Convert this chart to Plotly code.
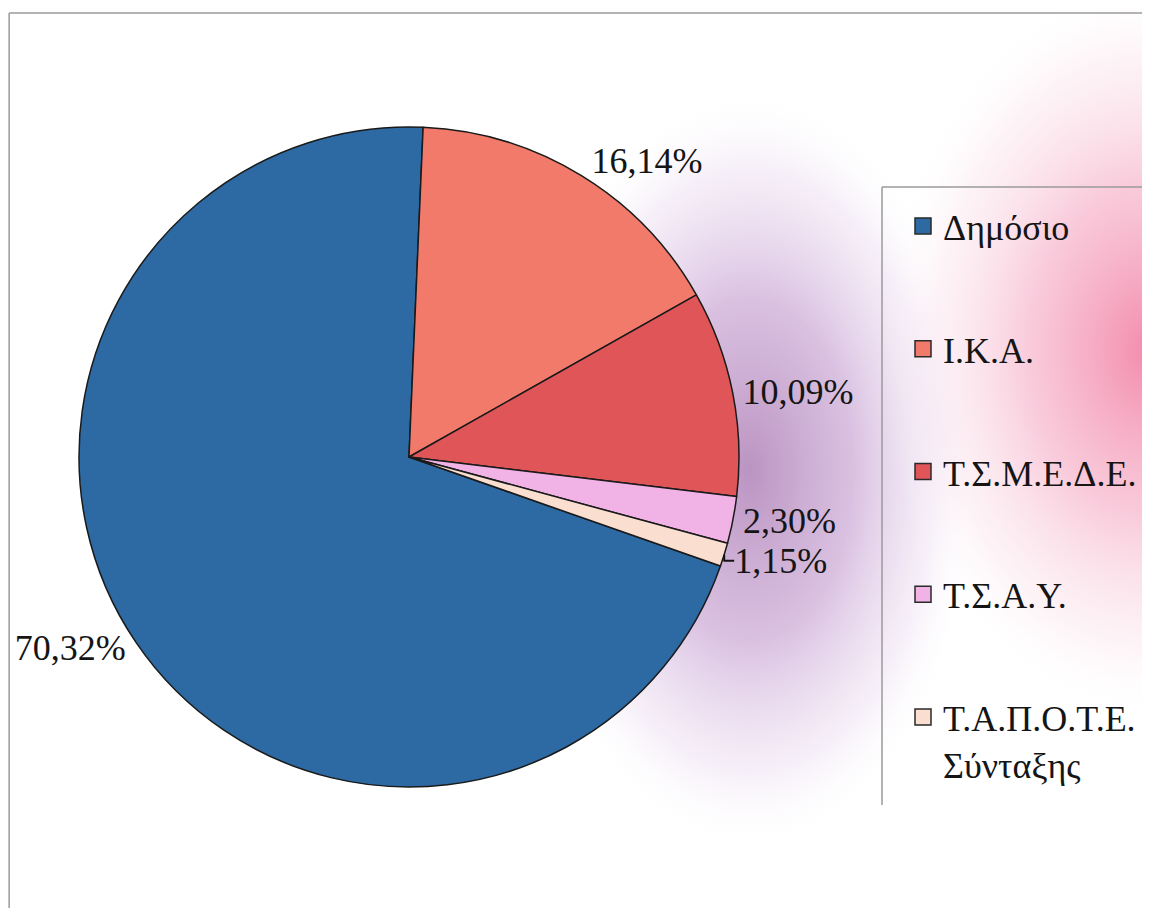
import plotly.graph_objects as go

# shares of pension funds (percent)
funds = ["Δημόσιο", "Ι.Κ.Α.", "Τ.Σ.Μ.Ε.Δ.Ε.", "Τ.Σ.Α.Υ.", "Τ.Α.Π.Ο.Τ.Ε.<br>Σύνταξης"]
shares = [70.32, 16.14, 10.09, 2.30, 1.15]
share_text = ["70,32%", "16,14%", "10,09%", "2,30%", "1,15%"]
colors = ["#2d6aa3", "#f17a6a", "#e05558", "#f1b2e6", "#fadfd0"]

SERIF = "Liberation Serif, Times New Roman, DejaVu Serif, serif"

# the page adds an 8px body margin, so work in page pixels
OFF = 8
W, H = 1150, 908


def paper_x(x):
    return (x - OFF) / W


def paper_y(y):
    return 1 - (y - OFF) / H


fig = go.Figure()

# soft glows of the scanned background
fig.add_trace(go.Scatter(
    x=[520, 980, 980, 520, 520], y=[90, 90, 850, 850, 90],
    fill="toself", mode="none", showlegend=False, hoverinfo="skip",
    fillgradient=dict(type="radial",
                      colorscale=[[0, "rgba(150,90,160,0.65)"], [0.45, "rgba(180,130,195,0.5)"],
                                  [0.8, "rgba(215,185,225,0.22)"], [1, "rgba(255,255,255,0)"]]),
))
fig.add_trace(go.Scatter(
    x=[880, 1420, 1420, 880, 880], y=[-20, -20, 720, 720, -20],
    fill="toself", mode="none", showlegend=False, hoverinfo="skip",
    fillgradient=dict(type="radial",
                      colorscale=[[0, "rgba(240,110,150,0.8)"], [0.45, "rgba(244,160,190,0.55)"],
                                  [0.8, "rgba(248,210,225,0.25)"], [1, "rgba(255,255,255,0)"]]),
))

fig.add_trace(go.Pie(
    labels=funds,
    values=shares,
    text=share_text,
    textinfo="text",
    textposition="outside",
    sort=False,
    direction="clockwise",
    rotation=109.3,
    marker=dict(colors=colors, line=dict(color="#1a1a1a", width=1.5)),
    outsidetextfont=dict(family=SERIF, size=36, color="#151515"),
    domain=dict(x=[paper_x(409 - 330), paper_x(409 + 330)],
                y=[paper_y(457 + 330), paper_y(457 - 330)]),
    showlegend=False,
    hoverinfo="skip",
))

# legend entries, one group each so the spacing can be set
for name, c in zip(funds, colors):
    fig.add_trace(go.Scatter(
        x=[None], y=[None], mode="markers", name=name, legendgroup=name,
        marker=dict(symbol="square", size=16, color=c, line=dict(color="#2a2a2a", width=1.5)),
    ))

# chart area frame and legend box edges
line_style = dict(color="#9a9a9a", width=1.5)
frame = [
    (8, 13, 1170, 13),
    (9, 13, 9, 930),
    (882, 187, 1170, 187),
    (882, 187, 882, 805),
]
for x0, y0, x1, y1 in frame:
    fig.add_shape(type="line", xref="paper", yref="paper",
                  x0=max(paper_x(x0), 0.001), y0=paper_y(y0),
                  x1=max(paper_x(x1), 0.001), y1=paper_y(y1), line=line_style)

fig.update_layout(
    width=W,
    height=H,
    margin=dict(l=0, r=0, t=0, b=0, autoexpand=False),
    paper_bgcolor="white",
    plot_bgcolor="rgba(0,0,0,0)",
    font=dict(family=SERIF, size=36, color="#151515"),
    xaxis=dict(range=[OFF, OFF + W], domain=[0, 1], visible=False, fixedrange=True),
    yaxis=dict(range=[OFF + H, OFF], domain=[0, 1], visible=False, fixedrange=True),
    showlegend=True,
    legend=dict(
        x=paper_x(903), y=paper_y(196),
        xanchor="left", yanchor="top",
        bgcolor="rgba(255,255,255,0)",
        borderwidth=0,
        font=dict(family=SERIF, size=36, color="#151515"),
        tracegroupgap=73,
        valign="top",
    ),
)

fig.write_html("out.html")
